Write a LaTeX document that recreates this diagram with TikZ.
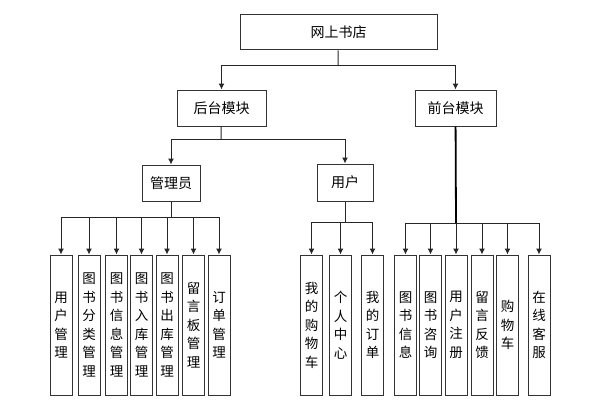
\documentclass[tikz,border=0pt]{standalone}
\usepackage{fontspec}
\newfontfamily\cjk{Noto Sans CJK SC}
\usetikzlibrary{arrows.meta}
\tikzset{%
	% Specifications for style of nodes:
	base/.style = {rectangle, draw=black!80, line width=1pt, inner sep=0pt,
		text centered, font=\cjk\fontsize{14pt}{18pt}\selectfont},
	module/.style = {base, minimum height=36pt},
	leaf/.style = {base, minimum width=22pt, minimum height=140pt, align=center,
		font=\cjk\fontsize{13.5pt}{18.5pt}\selectfont},
	% connectors
	link/.style = {draw=black!85, line width=1pt},
	>={Latex[length=6pt,width=6pt]}
}

\begin{document}
\begin{tikzpicture}[x=1pt, y=-1pt]
		\useasboundingbox (0,0) rectangle (602,412);
		\node (bookStore) [module, minimum width=197pt, minimum height=35pt] at (338.5,32.5) {网上书店};
		\node (backEnd) [module, minimum width=89pt] at (221.5,108) {后台模块};
		\node (frontEnd) [module, minimum width=81pt] at (455.5,108) {前台模块};
		\node (admin) [module, minimum width=58pt] at (171,183) {管理员};
		\node (user) [module, minimum width=56pt, minimum height=37pt] at (345,182.5) {用户};
		
		% admin leaves
		\node (userMgmt) [leaf] at (61,325) {用\\户\\管\\理};
		\node (catMgmt) [leaf] at (89,325) {图\\书\\分\\类\\管\\理};
		\node (infoMgmt) [leaf] at (116.5,325) {图\\书\\信\\息\\管\\理};
		\node (inMgmt) [leaf] at (141.5,325) {图\\书\\入\\库\\管\\理};
		\node (outMgmt) [leaf] at (167,325) {图\\书\\出\\库\\管\\理};
		\node (msgMgmt) [leaf] at (193.5,325) {留\\言\\板\\管\\理};
		\node (orderMgmt) [leaf] at (219,325) {订\\单\\管\\理};
		
		% user leaves
		\node (myCart) [leaf] at (311.5,325) {我\\的\\购\\物\\车};
		\node (myCenter) [leaf] at (340.5,325) {个\\人\\中\\心};
		\node (myOrder) [leaf] at (372.5,325) {我\\的\\订\\单};
		
		% front leaves
		\node (bookInfo) [leaf] at (405.5,325) {图\\书\\信\\息};
		\node (bookAsk) [leaf] at (430.5,325) {图\\书\\咨\\询};
		\node (register) [leaf] at (456,325) {用\\户\\注\\册};
		\node (feedback) [leaf] at (482,325) {留\\言\\反\\馈};
		\node (cart) [leaf] at (507.5,325) {购\\物\\车};
		\node (service) [leaf] at (539,325) {在\\线\\客\\服};
		
		\coordinate (topSplit) at (338,66);
		\coordinate (backSplit) at (221,139);
		\coordinate (adminSplit) at (171,217);
		\coordinate (userSplit) at (345,222);
		\coordinate (frontSplit) at (456,223);
		
		\draw[link] (bookStore) -- (topSplit);
		\draw[link, ->] (topSplit) -| (backEnd);
		\draw[link, ->] (topSplit) -| (frontEnd);
		
		\draw[link] (backEnd) -- (backSplit);
		\draw[link, ->] (backSplit) -| (admin);
		\draw[link, ->] (backSplit) -| (user);
		
		\draw[link] (admin) -- (adminSplit);
		\foreach \leaf in {userMgmt, catMgmt, infoMgmt, inMgmt, outMgmt, msgMgmt, orderMgmt}
			\draw[link, ->] (adminSplit) -| (\leaf);
		
		\draw[link] (user) -- (userSplit);
		\foreach \leaf in {myCart, myCenter, myOrder}
			\draw[link, ->] (userSplit) -| (\leaf);
		
		\draw[link, line width=1.8pt, draw=black] (frontEnd) -- (frontSplit);
		\foreach \leaf in {bookInfo, bookAsk, register, feedback, cart, service}
			\draw[link, ->] (frontSplit) -| (\leaf);
	\end{tikzpicture}
\end{document}
